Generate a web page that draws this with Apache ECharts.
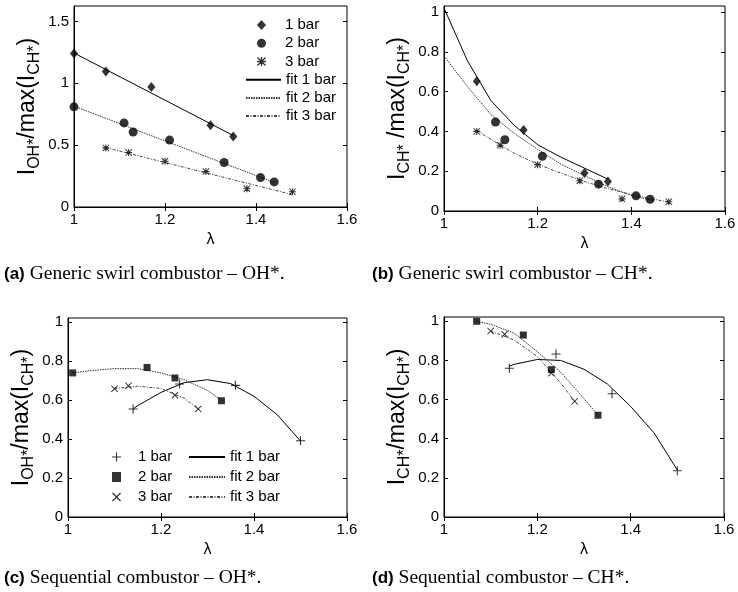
<!DOCTYPE html>
<html>
<head>
<meta charset="utf-8">
<script src="https://cdn.jsdelivr.net/npm/echarts@6.0.0/dist/echarts.min.js"></script>
<style>
  html, body { margin: 0; padding: 0; background: #fff; }
  #chart { width: 738px; height: 592px; }
</style>
</head>
<body>
<div id="chart"></div>
<script>
// ---- tick labels ----
const lambdaTicks = [1, 1.2, 1.4, 1.6];
const ticksA = [0, 0.5, 1, 1.5];
const ticksUnit = [0, 0.2, 0.4, 0.6, 0.8, 1];

// ---- (a) generic swirl combustor, OH* ----
const lamA1 = [1.00, 1.07, 1.17, 1.30, 1.35];
const ohA1 = [1.24, 1.095, 0.97, 0.66, 0.57];
const lamA2 = [1.00, 1.11, 1.13, 1.21, 1.33, 1.41, 1.44];
const ohA2 = [0.81, 0.68, 0.606, 0.541, 0.36, 0.238, 0.203];
const lamA3 = [1.07, 1.12, 1.20, 1.29, 1.38, 1.48];
const ohA3 = [0.478, 0.44, 0.37, 0.286, 0.148, 0.124];
const fitLamA1 = [1.00, 1.35];
const fitA1 = [1.245, 0.578];
const fitLamA2 = [1.00, 1.44];
const fitA2 = [0.815, 0.198];
const fitLamA3 = [1.07, 1.48];
const fitA3 = [0.48, 0.10];

// ---- (b) generic swirl combustor, CH* ----
const lamB1 = [1.07, 1.17, 1.30, 1.35];
const chB1 = [0.652, 0.407, 0.191, 0.148];
const lamB2 = [1.11, 1.13, 1.21, 1.33, 1.41, 1.44];
const chB2 = [0.447, 0.358, 0.275, 0.135, 0.076, 0.059];
const lamB3 = [1.07, 1.12, 1.20, 1.29, 1.38, 1.48];
const chB3 = [0.40, 0.33, 0.233, 0.152, 0.061, 0.046];
const fitLamB1 = [1.00, 1.05, 1.10, 1.15, 1.20, 1.25, 1.30, 1.35];
const fitB1 = [1.02, 0.755, 0.555, 0.43, 0.333, 0.27, 0.215, 0.16];
const fitLamB2 = [1.00, 1.05, 1.10, 1.15, 1.20, 1.25, 1.30, 1.35, 1.40, 1.45];
const fitB2 = [0.78, 0.625, 0.485, 0.39, 0.31, 0.235, 0.178, 0.122, 0.078, 0.05];
const fitLamB3 = [1.07, 1.10, 1.15, 1.20, 1.25, 1.30, 1.35, 1.40, 1.45, 1.48];
const fitB3 = [0.405, 0.36, 0.29, 0.235, 0.19, 0.148, 0.112, 0.083, 0.058, 0.045];

// ---- (c) sequential combustor, OH* ----
const lamC1 = [1.14, 1.24, 1.36, 1.50];
const ohC1 = [0.555, 0.683, 0.676, 0.392];
const lamC2 = [1.01, 1.17, 1.23, 1.33];
const ohC2 = [0.74, 0.768, 0.714, 0.597];
const lamC3 = [1.10, 1.13, 1.23, 1.28];
const ohC3 = [0.659, 0.674, 0.625, 0.555];
const fitLamC1 = [1.14, 1.15, 1.20, 1.25, 1.30, 1.35, 1.40, 1.45, 1.50];
const fitC1 = [0.555, 0.572, 0.64, 0.69, 0.705, 0.685, 0.62, 0.525, 0.39];
const fitLamC2 = [1.01, 1.05, 1.10, 1.15, 1.20, 1.25, 1.30, 1.33];
const fitC2 = [0.74, 0.752, 0.762, 0.762, 0.74, 0.705, 0.65, 0.6];
const fitLamC3 = [1.10, 1.15, 1.20, 1.25, 1.28];
const fitC3 = [0.66, 0.672, 0.66, 0.61, 0.555];

// ---- (d) sequential combustor, CH* ----
const lamD1 = [1.14, 1.24, 1.36, 1.50];
const chD1 = [0.76, 0.833, 0.63, 0.236];
const lamD2 = [1.07, 1.17, 1.23, 1.33];
const chD2 = [1.0, 0.93, 0.753, 0.52];
const lamD3 = [1.10, 1.13, 1.23, 1.28];
const chD3 = [0.95, 0.934, 0.735, 0.591];
const fitLamD1 = [1.14, 1.15, 1.20, 1.25, 1.30, 1.35, 1.40, 1.45, 1.50];
const fitD1 = [0.77, 0.78, 0.805, 0.80, 0.755, 0.68, 0.565, 0.43, 0.24];
const fitLamD2 = [1.07, 1.10, 1.15, 1.20, 1.25, 1.30, 1.33];
const fitD2 = [1.0, 0.985, 0.94, 0.845, 0.74, 0.605, 0.52];
const fitLamD3 = [1.10, 1.15, 1.20, 1.25, 1.28];
const fitD3 = [0.95, 0.905, 0.82, 0.685, 0.59];

// ---- captions ----
const captions = [
  ['(a)', 'Generic swirl combustor – OH*.'],
  ['(b)', 'Generic swirl combustor – CH*.'],
  ['(c)', 'Sequential combustor – OH*.'],
  ['(d)', 'Sequential combustor – CH*.']
];

const SANS = 'Liberation Sans';
const SERIF = 'Liberation Serif';

// MATLAB-like marker glyphs
const ASTERISK = 'path://M8.5,0H11.5V20H8.5Z M0,8.5H20V11.5H0Z M0,2L2,0L10,8L18,0L20,2L12,10L20,18L18,20L10,12L2,20L0,18L8,10Z';
const PLUS = 'path://M4.4,0H5.6V4.4H10V5.6H5.6V10H4.4V5.6H0V4.4H4.4Z';
const CROSS = 'path://M0,1L1,0L5,4L9,0L10,1L6,5L10,9L9,10L5,6L1,10L0,9L4,5Z';

const fitStyles = [
  { color: '#000', width: 1, type: 'solid' },
  { color: '#333', width: 1, type: [1.5, 1] },
  { color: '#444', width: 1, type: [3, 1.5, 1, 1.5] }
];

const panels = [
  {
    grid: { left: 74, top: 6, width: 273, height: 201 },
    yMax: 1.625, yTicks: ticksA, yGap: 31,
    yName: '{m|I}{s|OH*}{m|/max(I}{s|CH*}{m|)}',
    pts: [
      { name: 'a:1 bar', x: lamA1, y: ohA1, symbol: 'diamond', size: [8, 10] },
      { name: 'a:2 bar', x: lamA2, y: ohA2, symbol: 'circle', size: 9 },
      { name: 'a:3 bar', x: lamA3, y: ohA3, symbol: ASTERISK, size: 7 }
    ],
    fits: [
      { name: 'a:fit 1 bar', x: fitLamA1, y: fitA1 },
      { name: 'a:fit 2 bar', x: fitLamA2, y: fitA2 },
      { name: 'a:fit 3 bar', x: fitLamA3, y: fitA3 }
    ]
  },
  {
    grid: { left: 444, top: 6, width: 281, height: 205 },
    yMax: 1.03, yTicks: ticksUnit, yGap: 31,
    yName: '{m|I}{s|CH*}{m| /max(I}{s|CH*}{m|)}',
    pts: [
      { name: 'b:1 bar', x: lamB1, y: chB1, symbol: 'diamond', size: [8, 10] },
      { name: 'b:2 bar', x: lamB2, y: chB2, symbol: 'circle', size: 9 },
      { name: 'b:3 bar', x: lamB3, y: chB3, symbol: ASTERISK, size: 7 }
    ],
    fits: [
      { name: 'b:fit 1 bar', x: fitLamB1, y: fitB1 },
      { name: 'b:fit 2 bar', x: fitLamB2, y: fitB2 },
      { name: 'b:fit 3 bar', x: fitLamB3, y: fitB3 }
    ]
  },
  {
    grid: { left: 68, top: 318, width: 279, height: 199 },
    yMax: 1.022, yTicks: ticksUnit, yGap: 31,
    yName: '{m|I}{s|OH*}{m|/max(I}{s|CH*}{m|)}',
    pts: [
      { name: 'c:1 bar', x: lamC1, y: ohC1, symbol: PLUS, size: 9 },
      { name: 'c:2 bar', x: lamC2, y: ohC2, symbol: 'rect', size: 7 },
      { name: 'c:3 bar', x: lamC3, y: ohC3, symbol: CROSS, size: 7 }
    ],
    fits: [
      { name: 'c:fit 1 bar', x: fitLamC1, y: fitC1 },
      { name: 'c:fit 2 bar', x: fitLamC2, y: fitC2 },
      { name: 'c:fit 3 bar', x: fitLamC3, y: fitC3 }
    ]
  },
  {
    grid: { left: 444, top: 317, width: 280, height: 200 },
    yMax: 1.022, yTicks: ticksUnit, yGap: 31,
    yName: '{m|I}{s|CH*}{m|/max(I}{s|CH*}{m|)}',
    pts: [
      { name: 'd:1 bar', x: lamD1, y: chD1, symbol: PLUS, size: 9 },
      { name: 'd:2 bar', x: lamD2, y: chD2, symbol: 'rect', size: 7 },
      { name: 'd:3 bar', x: lamD3, y: chD3, symbol: CROSS, size: 7 }
    ],
    fits: [
      { name: 'd:fit 1 bar', x: fitLamD1, y: fitD1 },
      { name: 'd:fit 2 bar', x: fitLamD2, y: fitD2 },
      { name: 'd:fit 3 bar', x: fitLamD3, y: fitD3 }
    ]
  }
];

const zip = (xs, ys) => xs.map((x, k) => [x, ys[k]]);
const tickFont = { fontSize: 15, fontFamily: SANS, color: '#000' };

const grids = [], xAxes = [], yAxes = [], series = [];

panels.forEach((p, i) => {
  grids.push(Object.assign({
    show: true, borderColor: '#000', borderWidth: 1,
    backgroundColor: 'transparent', outerBoundsMode: 'none'
  }, p.grid));

  // bottom axis with labels, top axis for mirrored ticks
  xAxes.push({
    gridIndex: i, type: 'value', min: 1, max: 1.6, position: 'bottom',
    axisLine: { show: true, onZero: false, lineStyle: { color: '#000', width: 1 } },
    axisTick: { show: true, inside: true, length: 4, customValues: lambdaTicks, lineStyle: { color: '#000' } },
    axisLabel: Object.assign({ customValues: lambdaTicks, margin: 5 }, tickFont),
    splitLine: { show: false },
    name: 'λ', nameLocation: 'middle', nameGap: 25,
    nameTextStyle: { fontSize: 16, fontFamily: SANS, color: '#000' }
  });
  xAxes.push({
    gridIndex: i, type: 'value', min: 1, max: 1.6, position: 'top',
    axisLine: { show: false },
    axisTick: { show: true, inside: true, length: 4, customValues: lambdaTicks, lineStyle: { color: '#000' } },
    axisLabel: { show: false }, splitLine: { show: false }
  });

  yAxes.push({
    gridIndex: i, type: 'value', min: 0, max: p.yMax, position: 'left',
    axisLine: { show: true, onZero: false, lineStyle: { color: '#000', width: 1 } },
    axisTick: { show: true, inside: true, length: 4, customValues: p.yTicks, lineStyle: { color: '#000' } },
    axisLabel: Object.assign({ customValues: p.yTicks, margin: 5 }, tickFont),
    splitLine: { show: false },
    name: p.yName, nameLocation: 'middle', nameRotate: 90, nameGap: p.yGap,
    nameTextStyle: {
      color: '#000',
      rich: {
        m: { fontSize: 23, fontFamily: SANS, color: '#000', lineHeight: 31, verticalAlign: 'middle' },
        s: { fontSize: 16, fontFamily: SANS, color: '#000', lineHeight: 16, verticalAlign: 'bottom' }
      }
    }
  });
  yAxes.push({
    gridIndex: i, type: 'value', min: 0, max: p.yMax, position: 'right',
    axisLine: { show: false },
    axisTick: { show: true, inside: true, length: 4, customValues: p.yTicks, lineStyle: { color: '#000' } },
    axisLabel: { show: false }, splitLine: { show: false }
  });

  p.fits.forEach((f, k) => {
    series.push({
      type: 'line', name: f.name, xAxisIndex: 2 * i, yAxisIndex: 2 * i,
      data: zip(f.x, f.y), symbol: 'none', showSymbol: false,
      itemStyle: { color: fitStyles[k].color },
      lineStyle: fitStyles[k], z: 2, silent: true
    });
  });
  p.pts.forEach(s => {
    series.push({
      type: 'scatter', name: s.name, xAxisIndex: 2 * i, yAxisIndex: 2 * i,
      data: zip(s.x, s.y), symbol: s.symbol, symbolSize: s.size,
      itemStyle: { color: '#000' }, z: 3, silent: true
    });
  });
});

const legendText = n => n.split(':')[1];
const legendBase = {
  orient: 'vertical', selectedMode: false, formatter: legendText,
  itemGap: 0, padding: 0
};
// line-only legend samples (no marker in the middle)
const lineOnly = { color: 'transparent', borderColor: 'transparent', borderWidth: 0, opacity: 0 };

const legends = [
  Object.assign({}, legendBase, {
    left: 257, top: 16, itemWidth: 9, itemHeight: 10,
    data: ['a:1 bar', 'a:2 bar', 'a:3 bar'],
    textStyle: { fontSize: 15, fontFamily: SANS, color: '#000', lineHeight: 18.2, padding: [0, 0, 0, 14] }
  }),
  Object.assign({}, legendBase, {
    left: 245, top: 16 + 3 * 18.2, itemWidth: 35, itemHeight: 10,
    itemStyle: lineOnly,
    data: ['a:fit 1 bar', 'a:fit 2 bar', 'a:fit 3 bar'],
    textStyle: { fontSize: 15, fontFamily: SANS, color: '#000', lineHeight: 18.2 }
  }),
  Object.assign({}, legendBase, {
    left: 112, top: 447, itemWidth: 9, itemHeight: 10,
    data: ['c:1 bar', 'c:2 bar', 'c:3 bar'],
    textStyle: { fontSize: 15, fontFamily: SANS, color: '#000', lineHeight: 20, padding: [0, 0, 0, 12] }
  }),
  Object.assign({}, legendBase, {
    left: 188, top: 447, itemWidth: 36, itemHeight: 10,
    itemStyle: lineOnly,
    data: ['c:fit 1 bar', 'c:fit 2 bar', 'c:fit 3 bar'],
    textStyle: { fontSize: 15, fontFamily: SANS, color: '#000', lineHeight: 20 }
  })
];

const captionPos = [[4, 274], [372, 274], [4, 578], [372, 578]];
const graphics = captions.map((c, i) => ({
  type: 'text', x: captionPos[i][0], y: captionPos[i][1], silent: true,
  style: {
    text: '{b|' + c[0] + '} ' + c[1],
    fontFamily: SERIF, fontSize: 19.5, fill: '#000', verticalAlign: 'middle',
    rich: { b: { fontFamily: SANS, fontWeight: 'bold', fontSize: 17, fill: '#000' } }
  }
}));

const chart = echarts.init(document.getElementById('chart'), null, { renderer: 'canvas' });
chart.setOption({
  animation: false,
  backgroundColor: '#fff',
  grid: grids,
  xAxis: xAxes,
  yAxis: yAxes,
  legend: legends,
  graphic: graphics,
  series: series
});
</script>
</body>
</html>
